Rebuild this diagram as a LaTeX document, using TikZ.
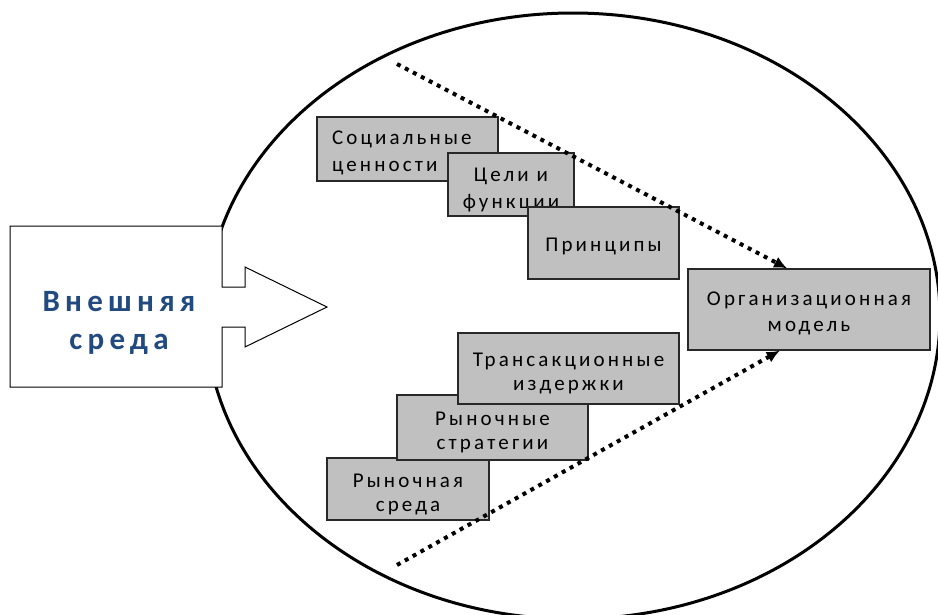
\documentclass[tikz,border=0pt]{standalone}
\usepackage{fontspec}
\setmainfont{Carlito}
\newfontfamily\boxfont[LetterSpace=15]{Carlito}
\newfontfamily\envfont[LetterSpace=17]{Carlito}
\usetikzlibrary{arrows.meta,calc}
\definecolor{envblue}{RGB}{33,74,128}
\definecolor{boxgray}{RGB}{192,192,192}
\definecolor{boxline}{RGB}{40,40,40}
\begin{document}
\begin{tikzpicture}[x=1pt,y=-1pt,
  gbox/.style={draw=boxline, line width=1.3pt, fill=boxgray, inner sep=0pt, anchor=center},
  gtext/.style={inner sep=0pt, align=center, anchor=center},
  topfont/.style={font=\boxfont\fontsize{21}{27}\selectfont},
  botfont/.style={font=\boxfont\fontsize{21}{24}\selectfont},
  flow/.style={line width=4pt, dash pattern=on 4pt off 5pt, -{Latex[length=13pt,width=12pt]}},
  outer/.style={line width=3pt},
  envshape/.style={draw=black, line width=1pt, fill=white, line join=miter}]
\useasboundingbox (0,0) rectangle (938,614);
\clip (0,0) rectangle (938,614);
\fill[white] (0,0) rectangle (938,614);
% environment ellipse
\draw[outer] (573,316) ellipse [x radius=367, y radius=303];
% external environment arrow
\draw[envshape] (10,226) -- (222,226) -- (222,287) -- (245,287) -- (245,267) -- (327,307)
  -- (245,347) -- (245,327) -- (222,327) -- (222,387) -- (10,387) -- cycle;
\node[gtext, font=\envfont\bfseries\fontsize{31}{38}\selectfont, text=envblue] (envt) at (119,323) {Внешняя\\среда};
% upper group
\node[gbox, minimum width=181pt, minimum height=64pt] (soc) at (407.5,149) {};
\node[gtext, topfont, text width=151pt, align=left] (soct) at ($(soc.center)+(0,4)$) {Социальные\\ценности};
\node[gbox, minimum width=126pt, minimum height=63pt] (cel) at (511,184.5) {};
\node[gtext, topfont] (celt) at ($(cel.center)+(0,5.5)$) {Цели и\\функции};
\node[gbox, minimum width=151pt, minimum height=72pt] (pri) at (603.5,243) {};
\node[gtext, topfont] (prit) at ($(pri.center)+(0,3.9)$) {Принципы};
% lower group
\node[gbox, minimum width=162pt, minimum height=62pt] (ryn) at (408,489) {};
\node[gtext, botfont] (rynt) at ($(ryn.center)+(0,5.4)$) {Рыночная\\среда};
\node[gbox, minimum width=191pt, minimum height=65pt] (str) at (492.5,427.5) {};
\node[gtext, botfont] (strt) at ($(str.center)+(0,4.9)$) {Рыночные\\стратегии};
\node[gbox, minimum width=221pt, minimum height=71pt] (tra) at (568.5,368.5) {};
\node[gtext, botfont] (trat) at ($(tra.center)+(0,5.1)$) {Трансакционные\\издержки};
% organisational model
\node[gbox, minimum width=242pt, minimum height=81pt] (org) at (809,309.5) {};
\node[gtext, font=\boxfont\fontsize{21}{26}\selectfont] (orgt) at ($(org.center)+(0,3.5)$) {Организационная\\модель};
% dotted flows
\coordinate (u0) at (397,64);
\coordinate (l0) at (397,565);
\draw[flow] (u0) -- ($(org.north west)!0.41!(org.north east)$);
\draw[flow] (l0) -- ($(org.south west)!0.38!(org.south east)$);
\end{tikzpicture}
\end{document}
